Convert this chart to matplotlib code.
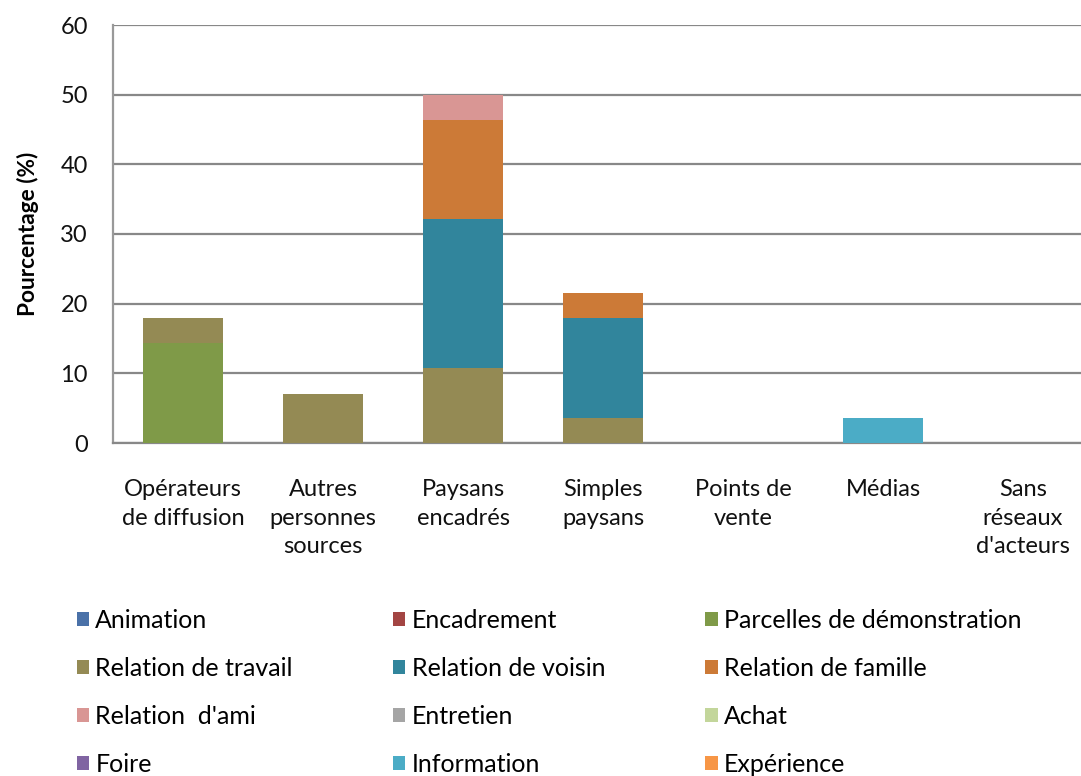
import numpy as np
import matplotlib
matplotlib.use("Agg")
import matplotlib.pyplot as plt
from matplotlib.patches import Patch

plt.rcParams['font.family'] = ['Lato', 'DejaVu Sans']

# Categories (x axis)
categories = ["Opérateurs\nde diffusion", "Autres\npersonnes\nsources", "Paysans\nencadrés",
              "Simples\npaysans", "Points de\nvente", "Médias", "Sans\nréseaux\nd'acteurs"]

# Series names and colours
series = ["Animation", "Encadrement", "Parcelles de démonstration",
          "Relation de travail", "Relation de voisin", "Relation de famille",
          "Relation  d'ami", "Entretien", "Achat",
          "Foire", "Information", "Expérience"]
colors = ["#4A71A8", "#A34543", "#7F9A48",
          "#948A54", "#31859C", "#CC7A37",
          "#D99694", "#A5A5A5", "#C3D69B",
          "#8064A2", "#4BACC6", "#F79646"]

# Values (%) per series, one per category
animation    = [0, 0, 0, 0, 0, 0, 0]
encadrement  = [0, 0, 0, 0, 0, 0, 0]
parcelles    = [14.3, 0, 0, 0, 0, 0, 0]
travail      = [3.6, 7.1, 10.7, 3.6, 0, 0, 0]
voisin       = [0, 0, 21.4, 14.3, 0, 0, 0]
famille      = [0, 0, 14.3, 3.6, 0, 0, 0]
ami          = [0, 0, 3.6, 0, 0, 0, 0]
entretien    = [0, 0, 0, 0, 0, 0, 0]
achat        = [0, 0, 0, 0, 0, 0, 0]
foire        = [0, 0, 0, 0, 0, 0, 0]
information  = [0, 0, 0, 0, 0, 3.6, 0]
experience   = [0, 0, 0, 0, 0, 0, 0]

values = [animation, encadrement, parcelles, travail, voisin, famille,
          ami, entretien, achat, foire, information, experience]

fig = plt.figure(figsize=(10.81, 7.76), dpi=100)
ax = fig.add_axes([113/1081, 1 - 443/776, 980/1081, 418/776])

x = np.arange(len(categories))
bottom = np.zeros(len(categories))
for name, vals, col in zip(series, values, colors):
    vals = np.array(vals, dtype=float)
    ax.bar(x, vals, width=0.57, bottom=bottom, color=col, linewidth=0, zorder=3)
    bottom += vals

ax.set_xlim(-0.5, len(categories) - 0.5)
ax.set_ylim(0, 60)
ax.set_yticks(np.arange(0, 61, 10))
ax.yaxis.grid(True, color="#888888", linewidth=1.6, zorder=0)
ax.tick_params(axis='both', length=0, labelsize=17, labelcolor="#111111")
ax.tick_params(axis='y', pad=18)
ax.tick_params(axis='x', pad=26)
ax.set_xticks(x)
ax.set_xticklabels(categories, linespacing=1.45)
for s in ["top", "right"]:
    ax.spines[s].set_visible(False)
ax.spines["left"].set_color("#999999")
ax.spines["left"].set_linewidth(1.6)
ax.spines["bottom"].set_color("#888888")
ax.spines["bottom"].set_linewidth(1.6)
ax.set_ylabel("Pourcentage (%)", fontsize=16.3, fontweight="bold")
ax.yaxis.set_label_coords(-74/980, 0.5)

# Legend fills row by row (3 columns) -> reorder for matplotlib's column filling
handles = [Patch(facecolor=c, edgecolor='none') for c in colors]
order = [r * 3 + c for c in range(3) for r in range(4)]
fig.legend([handles[i] for i in order], [series[i] for i in order],
           ncol=3, loc="upper left", bbox_to_anchor=(54/1081, 1 - 586/776),
           frameon=False, fontsize=18, handlelength=0.5, handleheight=0.5,
           handletextpad=0.25, columnspacing=4.0, labelspacing=1.0)

fig.savefig("out.png", dpi=100)
